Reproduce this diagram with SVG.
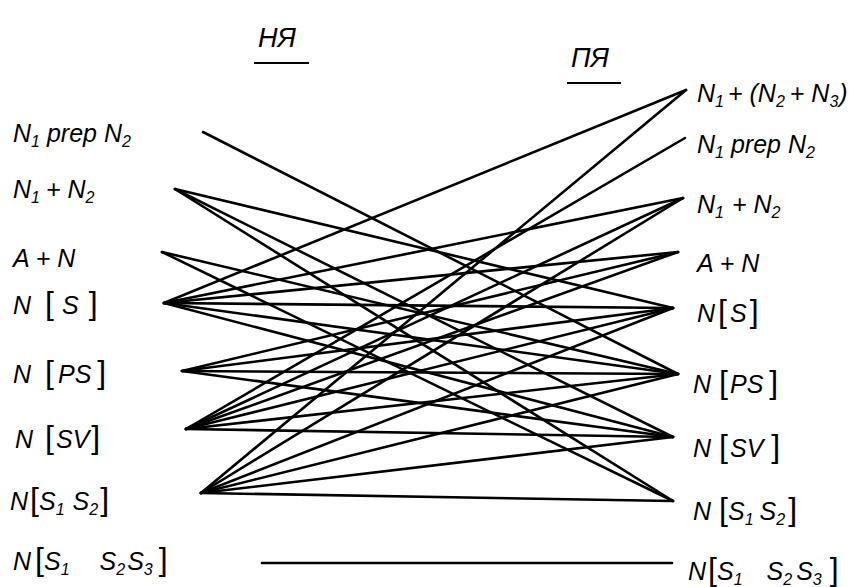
<svg xmlns="http://www.w3.org/2000/svg" width="862" height="587" viewBox="0 0 862 587">
<style>
.t{font-family:"Liberation Sans",Arial,sans-serif;font-style:italic;font-size:25px;fill:#000}
.s{font-size:16px}
.b{font-size:32px;font-style:normal}
.h{font-family:"Liberation Sans",Arial,sans-serif;font-style:italic;font-size:27px;fill:#000}
.u{stroke:#000;stroke-width:2}
#connectors line{stroke:#000;stroke-width:2.6;stroke-linecap:round}
</style>
<rect width="862" height="587" fill="#fff"/>
<g id="header-left"><text class="h" x="258" y="47">НЯ</text><line class="u" x1="254" y1="63" x2="309" y2="63"/></g>
<g id="header-right"><text class="h" x="571" y="67">ПЯ</text><line class="u" x1="567" y1="83" x2="621" y2="83"/></g>
<g id="connectors">
<line x1="203" y1="132" x2="678" y2="374"/>
<line x1="175" y1="189" x2="673" y2="308"/>
<line x1="175" y1="189" x2="673" y2="437"/>
<line x1="175" y1="189" x2="673" y2="501"/>
<line x1="162" y1="252" x2="678" y2="374"/>
<line x1="162" y1="252" x2="673" y2="501"/>
<line x1="164" y1="303" x2="686" y2="90"/>
<line x1="164" y1="303" x2="683" y2="198"/>
<line x1="164" y1="303" x2="678" y2="252"/>
<line x1="164" y1="303" x2="673" y2="308"/>
<line x1="164" y1="303" x2="678" y2="374"/>
<line x1="164" y1="303" x2="673" y2="437"/>
<line x1="182" y1="371" x2="678" y2="252"/>
<line x1="182" y1="371" x2="673" y2="308"/>
<line x1="182" y1="371" x2="678" y2="374"/>
<line x1="182" y1="371" x2="673" y2="437"/>
<line x1="186" y1="429" x2="685" y2="138"/>
<line x1="186" y1="429" x2="683" y2="198"/>
<line x1="186" y1="429" x2="678" y2="252"/>
<line x1="186" y1="429" x2="673" y2="308"/>
<line x1="186" y1="429" x2="678" y2="374"/>
<line x1="186" y1="429" x2="673" y2="437"/>
<line x1="201" y1="493" x2="686" y2="90"/>
<line x1="201" y1="493" x2="683" y2="198"/>
<line x1="201" y1="493" x2="673" y2="308"/>
<line x1="201" y1="493" x2="678" y2="374"/>
<line x1="201" y1="493" x2="673" y2="437"/>
<line x1="201" y1="493" x2="673" y2="501"/>
<line x1="262" y1="563" x2="672" y2="563"/>
</g>
<g id="L1"><text class="t" x="13" y="142">N<tspan class="s" dy="5">1</tspan><tspan dy="-5" dx="7">prep N</tspan><tspan class="s" dy="5">2</tspan></text></g>
<g id="L2"><text class="t" x="13" y="198">N<tspan class="s" dy="5">1</tspan><tspan dy="-5" dx="6">+ N</tspan><tspan class="s" dy="5">2</tspan></text></g>
<g id="L3"><text class="t" x="13" y="267">A + N</text></g>
<g id="L4"><text class="t" x="13" y="314">N<tspan class="b" dx="14">[</tspan><tspan dx="8">S</tspan><tspan class="b" dx="10">]</tspan></text></g>
<g id="L5"><text class="t" x="13" y="383">N<tspan class="b" dx="14">[</tspan><tspan dx="4">PS</tspan><tspan class="b" dx="6">]</tspan></text></g>
<g id="L6"><text class="t" x="15" y="448">N<tspan class="b" dx="12">[</tspan><tspan dx="2">SV</tspan><tspan class="b" dx="2">]</tspan></text></g>
<g id="L7"><text class="t" x="10" y="510">N<tspan class="b" dx="2">[</tspan>S<tspan class="s" dy="5">1</tspan><tspan dy="-5" dx="8">S</tspan><tspan class="s" dy="5">2</tspan><tspan class="b" dy="-5" dx="2">]</tspan></text></g>
<g id="L8"><text class="t" x="13" y="570">N<tspan class="b" dx="4">[</tspan>S<tspan class="s" dy="5">1</tspan><tspan dy="-5" dx="30">S</tspan><tspan class="s" dy="5">2</tspan><tspan dy="-5" dx="2">S</tspan><tspan class="s" dy="5">3</tspan><tspan class="b" dy="-5" dx="6">]</tspan></text></g>
<g id="R1"><text class="t" x="697" y="102">N<tspan class="s" dy="5">1</tspan><tspan dy="-5" dx="4">+ (N</tspan><tspan class="s" dy="5">2</tspan><tspan dy="-5" dx="5">+ N</tspan><tspan class="s" dy="5">3</tspan><tspan dy="-5" dx="1">)</tspan></text></g>
<g id="R2"><text class="t" x="697" y="153">N<tspan class="s" dy="5">1</tspan><tspan dy="-5" dx="7">prep N</tspan><tspan class="s" dy="5">2</tspan></text></g>
<g id="R3"><text class="t" x="697" y="213">N<tspan class="s" dy="5">1</tspan><tspan dy="-5" dx="8">+ N</tspan><tspan class="s" dy="5">2</tspan></text></g>
<g id="R4"><text class="t" x="697" y="272">A + N</text></g>
<g id="R5"><text class="t" x="697" y="322">N<tspan class="b" dx="3">[</tspan><tspan dx="3">S</tspan><tspan class="b" dx="3">]</tspan></text></g>
<g id="R6"><text class="t" x="693" y="393">N<tspan class="b" dx="8">[</tspan><tspan dx="2">PS</tspan><tspan class="b" dx="6">]</tspan></text></g>
<g id="R7"><text class="t" x="693" y="457">N<tspan class="b" dx="8">[</tspan><tspan dx="2">SV</tspan><tspan class="b" dx="8">]</tspan></text></g>
<g id="R8"><text class="t" x="693" y="520">N<tspan class="b" dx="8">[</tspan>S<tspan class="s" dy="5">1</tspan><tspan dy="-5" dx="6">S</tspan><tspan class="s" dy="5">2</tspan><tspan class="b" dy="-5" dx="3">]</tspan></text></g>
<g id="R9"><text class="t" x="688" y="580">N<tspan class="b" dx="2">[</tspan>S<tspan class="s" dy="5">1</tspan><tspan dy="-5" dx="24">S</tspan><tspan class="s" dy="5">2</tspan><tspan dy="-5" dx="4">S</tspan><tspan class="s" dy="5">3</tspan><tspan class="b" dy="-5" dx="8">]</tspan></text></g>
</svg>
